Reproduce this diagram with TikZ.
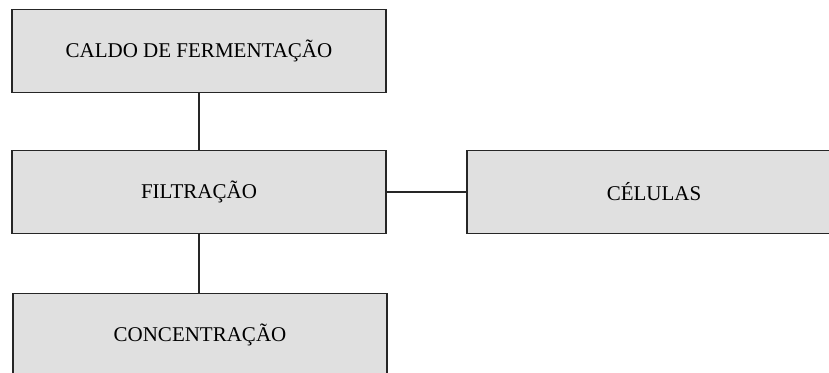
\documentclass[tikz,border=0pt]{standalone}
\usepackage{fontspec}
\setmainfont{Liberation Serif}
\usepackage{xcolor}
\usepackage{tikz}
\usetikzlibrary{positioning}
\definecolor{boxgray}{HTML}{E0E0E0}
\tikzstyle{block} = [rectangle, draw=black!85, line width=1.2pt, fill=boxgray,
    minimum width=374pt, minimum height=83pt, outer sep=0pt,
    font=\fontsize{21}{24}\selectfont]
\tikzstyle{edge} = [draw, line width=1.2pt, black!85, -]

\begin{document}
\begin{tikzpicture}
  \useasboundingbox (0,0) rectangle (829pt,-372pt);
  % Place nodes
  \node [block] at (199pt,-51pt) (caldo) {CALDO DE FERMENTAÇÃO};
  \node [block, below=58pt of caldo] (filtracao) {FILTRAÇÃO};
  \node [block, right=81pt of filtracao] (celulas) {CÉLULAS};
  \node [block, below=60pt of filtracao, xshift=1pt] (concentracao) {CONCENTRAÇÃO};

  % Connect
  \path [edge] (caldo) -- (filtracao);
  \path [edge] (filtracao) -- (celulas);
  \path [edge] (filtracao.south) -- (filtracao.south |- concentracao.north);
\end{tikzpicture}
\end{document}
